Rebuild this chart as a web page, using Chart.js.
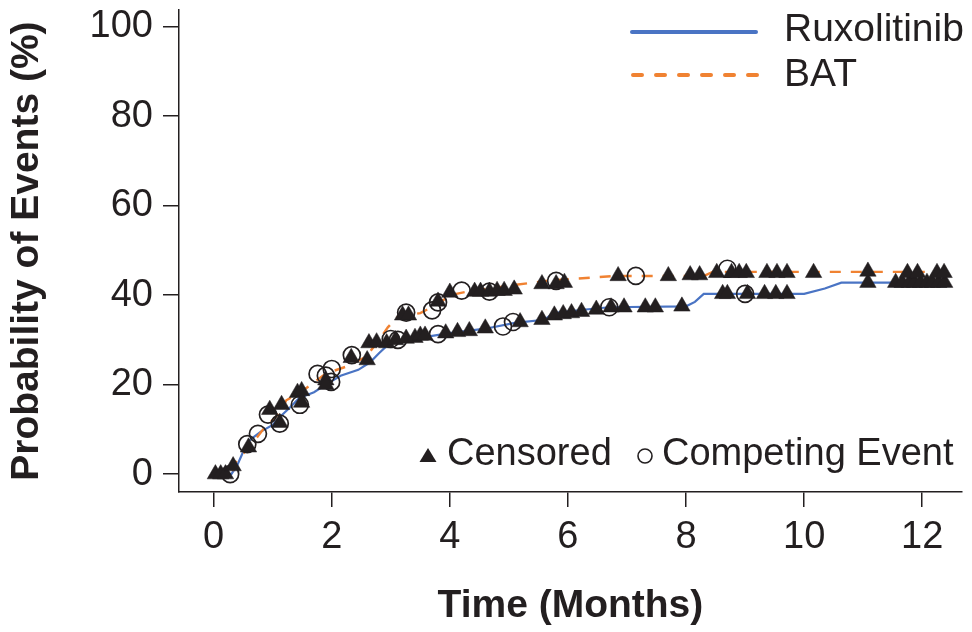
<!DOCTYPE html>
<html><head><meta charset="utf-8">
<script src="https://cdn.jsdelivr.net/npm/chart.js@4.4.1/dist/chart.umd.min.js"></script>
<style>html,body{margin:0;padding:0;background:#fff}#wrap{width:972px;height:632px;position:relative}</style>
</head><body><div id="wrap"><canvas id="c" width="972" height="632"></canvas></div>
<script>
// ---- data ----
const ruxTime = [0,0.3,0.4,0.5,0.6,0.8,1.0,1.1,1.3,1.45,1.7,1.9,2.15,2.45,2.65,2.8,3.0,3.4,4.0,4.6,5.1,5.6,5.75,6.3,6.7,8.0,8.15,8.3,10.0,10.35,10.63,12.4];
const ruxProb = [0,0,2,5,7.5,9.5,11,12.5,15,17,18.3,20,22,23.3,25,27,29.5,30.3,31.5,32.5,33.8,34.5,36,36.8,37.3,37.5,38.5,40.3,40.3,41.5,42.8,42.8];
const batTime = [0,0.3,0.37,0.62,0.84,1.12,1.23,1.46,1.7,1.9,2.24,2.58,2.8,2.95,3.1,3.5,3.8,4.0,4.3,5.1,5.7,6.8,8.3,8.45,12.45];
const batProb = [0,0,2.6,6.3,10,13.7,16.5,18.2,20.5,22.5,24,26.2,30,32.8,35,36,38,40,40.8,42.3,43.3,44.3,44.3,45.2,45.2];
const censoredTime = [0.03,0.12,0.2,0.33,0.59,0.95,1.12,1.15,1.42,1.49,1.49,1.9,1.9,2.33,2.6,2.63,2.76,2.93,
  3.08,3.26,3.41,3.5,3.58,3.93,4.13,4.33,4.6,5.19,5.56,5.77,5.92,6.06,6.23,6.48,6.73,6.95,7.31,7.48,7.93,8.62,8.7,9.04,9.33,9.52,9.71,
  11.08,11.55,11.66,11.78,11.87,11.97,12.08,12.17,12.28,12.38,
  3.2,3.3,3.8,4.0,4.42,4.52,4.67,4.8,4.92,5.09,5.56,5.8,5.94,6.85,7.7,8.07,8.23,8.52,8.77,8.9,9.02,9.37,9.54,9.71,10.16,11.08,11.75,11.92,12.25,12.37];
const censoredProb = [0,0,0,1.8,6,14.4,11.5,15.5,18.2,18.6,16,21,20,26,25.5,29.3,29.5,29.3,
  30,30.3,30.5,31,31,31.5,31.8,32,32.6,34,34.5,35.5,35.8,36,36.3,36.8,37.3,37.3,37.3,37.3,37.5,40.3,40.3,40.3,40.3,40.3,40.3,
  42.8,42.8,42.8,42.8,42.8,42.8,42.8,42.8,42.8,42.8,
  35.5,35.5,38.6,40.6,40.8,40.8,40.8,41,41,41.3,42.5,42.5,42.8,44.3,44.3,44.5,44.5,45,45,45,45,45,45,45,45,45.3,45,45,45,45];
const competingTime = [0.28,0.57,0.75,0.92,1.12,1.46,1.76,1.9,2.0,1.99,2.34,3.0,3.12,3.8,4.9,5.07,6.7,9.0,3.26,3.7,3.8,4.2,4.67,5.8,7.15,8.7];
const competingProb = [0,6.7,9,13.3,11.3,15.5,22.4,22,23.5,20.6,26.6,30.2,30,31.3,33,34,37.3,40.3,36.1,36.6,38.4,41,40.8,43.2,44.3,45.9];
const xTicks = [0,2,4,6,8,10,12];
const yTicks = [0,20,40,60,80,100];
const seriesNames = ['Ruxolitinib','BAT'];
const markerNames = ['Censored','Competing Event'];

// ---- styling ----
const BLUE = '#4a74c4', ORANGE = '#f08232', INK = '#231f20';
const FONT = '"Liberation Sans", Arial, Helvetica, sans-serif';
const pts = (xs, ys) => xs.map((x, i) => ({x, y: ys[i]}));

const legendPlugin = {
  id: 'customLegends',
  afterDraw(chart) {
    const ctx = chart.ctx;
    ctx.save();
    // top-right series legend
    ctx.lineWidth = 4;
    ctx.strokeStyle = BLUE; ctx.setLineDash([]); ctx.lineCap = 'round';
    ctx.beginPath(); ctx.moveTo(632, 32); ctx.lineTo(756, 32); ctx.stroke();
    ctx.strokeStyle = ORANGE; ctx.setLineDash([9, 14]); ctx.lineCap = 'round';
    ctx.beginPath(); ctx.moveTo(633, 75); ctx.lineTo(760, 75); ctx.stroke();
    ctx.setLineDash([]);
    ctx.fillStyle = INK;
    ctx.font = '39px ' + FONT;
    ctx.textBaseline = 'middle'; ctx.textAlign = 'left';
    ctx.fillText(seriesNames[0], 784, 30);
    ctx.fillText(seriesNames[1], 784, 75);
    // bottom marker legend
    ctx.font = '38px ' + FONT;
    ctx.beginPath();
    ctx.moveTo(428, 448); ctx.lineTo(436.5, 462); ctx.lineTo(419.5, 462); ctx.closePath(); ctx.fill();
    ctx.fillText(markerNames[0], 447, 455);
    ctx.lineWidth = 1.6; ctx.strokeStyle = INK;
    ctx.beginPath(); ctx.arc(645, 456, 7, 0, Math.PI * 2); ctx.stroke();
    ctx.fillText(markerNames[1], 662, 455);
    ctx.restore();
  }
};

new Chart(document.getElementById('c'), {
  type: 'scatter',
  data: {
    datasets: [
      {label: 'Censored', data: pts(censoredTime, censoredProb), showLine: false, pointStyle: 'triangle',
       pointRadius: 9.5, backgroundColor: INK, borderColor: INK, borderWidth: 0.5, order: 0, clip: false},
      {label: 'Competing Event', data: pts(competingTime, competingProb), showLine: false, pointStyle: 'circle',
       pointRadius: 8.5, backgroundColor: 'rgba(0,0,0,0)', borderColor: INK, borderWidth: 1.7, order: 0, clip: false},
      {label: seriesNames[0], data: pts(ruxTime, ruxProb), showLine: true, pointRadius: 0, borderColor: BLUE,
       borderWidth: 2.2, tension: 0, order: 2},
      {label: seriesNames[1], data: pts(batTime, batProb), showLine: true, pointRadius: 0, borderColor: ORANGE,
       borderWidth: 2.4, borderDash: [11, 10], tension: 0, order: 1}
    ]
  },
  options: {
    responsive: false, animation: false, devicePixelRatio: 1,
    layout: {padding: {left: 0, right: 2, top: 7, bottom: 0}},
    plugins: {legend: {display: false}, tooltip: {enabled: false}},
    scales: {
      x: {
        type: 'linear', min: -0.5866, max: 12.67,
        afterFit: s => { s.height = 140; s.paddingLeft = 0; s.paddingRight = 0; },
        afterBuildTicks: s => { s.ticks = xTicks.map(v => ({value: v})); },
        grid: {drawOnChartArea: false, drawTicks: true, tickLength: 15, color: INK, lineWidth: 1.5},
        border: {display: true, color: INK, width: 1.5},
        ticks: {color: INK, font: {family: FONT, size: 38}, padding: 8, maxRotation: 0, autoSkip: false},
        title: {display: true, text: 'Time (Months)', color: INK, font: {family: FONT, size: 39, weight: 'bold'}, padding: {top: 4, bottom: 2}}
      },
      y: {
        type: 'linear', min: -4.0, max: 103.7,
        afterFit: s => { s.width = 179; s.paddingTop = 0; s.paddingBottom = 0; },
        afterBuildTicks: s => { s.ticks = yTicks.map(v => ({value: v})); },
        grid: {drawOnChartArea: false, drawTicks: true, tickLength: 16, color: INK, lineWidth: 1.5},
        border: {display: true, color: INK, width: 1.5},
        ticks: {color: INK, font: {family: FONT, size: 38}, padding: 10, autoSkip: false},
        title: {display: true, text: 'Probability of Events (%)', color: INK, font: {family: FONT, size: 39, weight: 'bold'}, padding: {top: 4, bottom: 4}}
      }
    }
  },
  plugins: [legendPlugin]
});
</script>
</body></html>
